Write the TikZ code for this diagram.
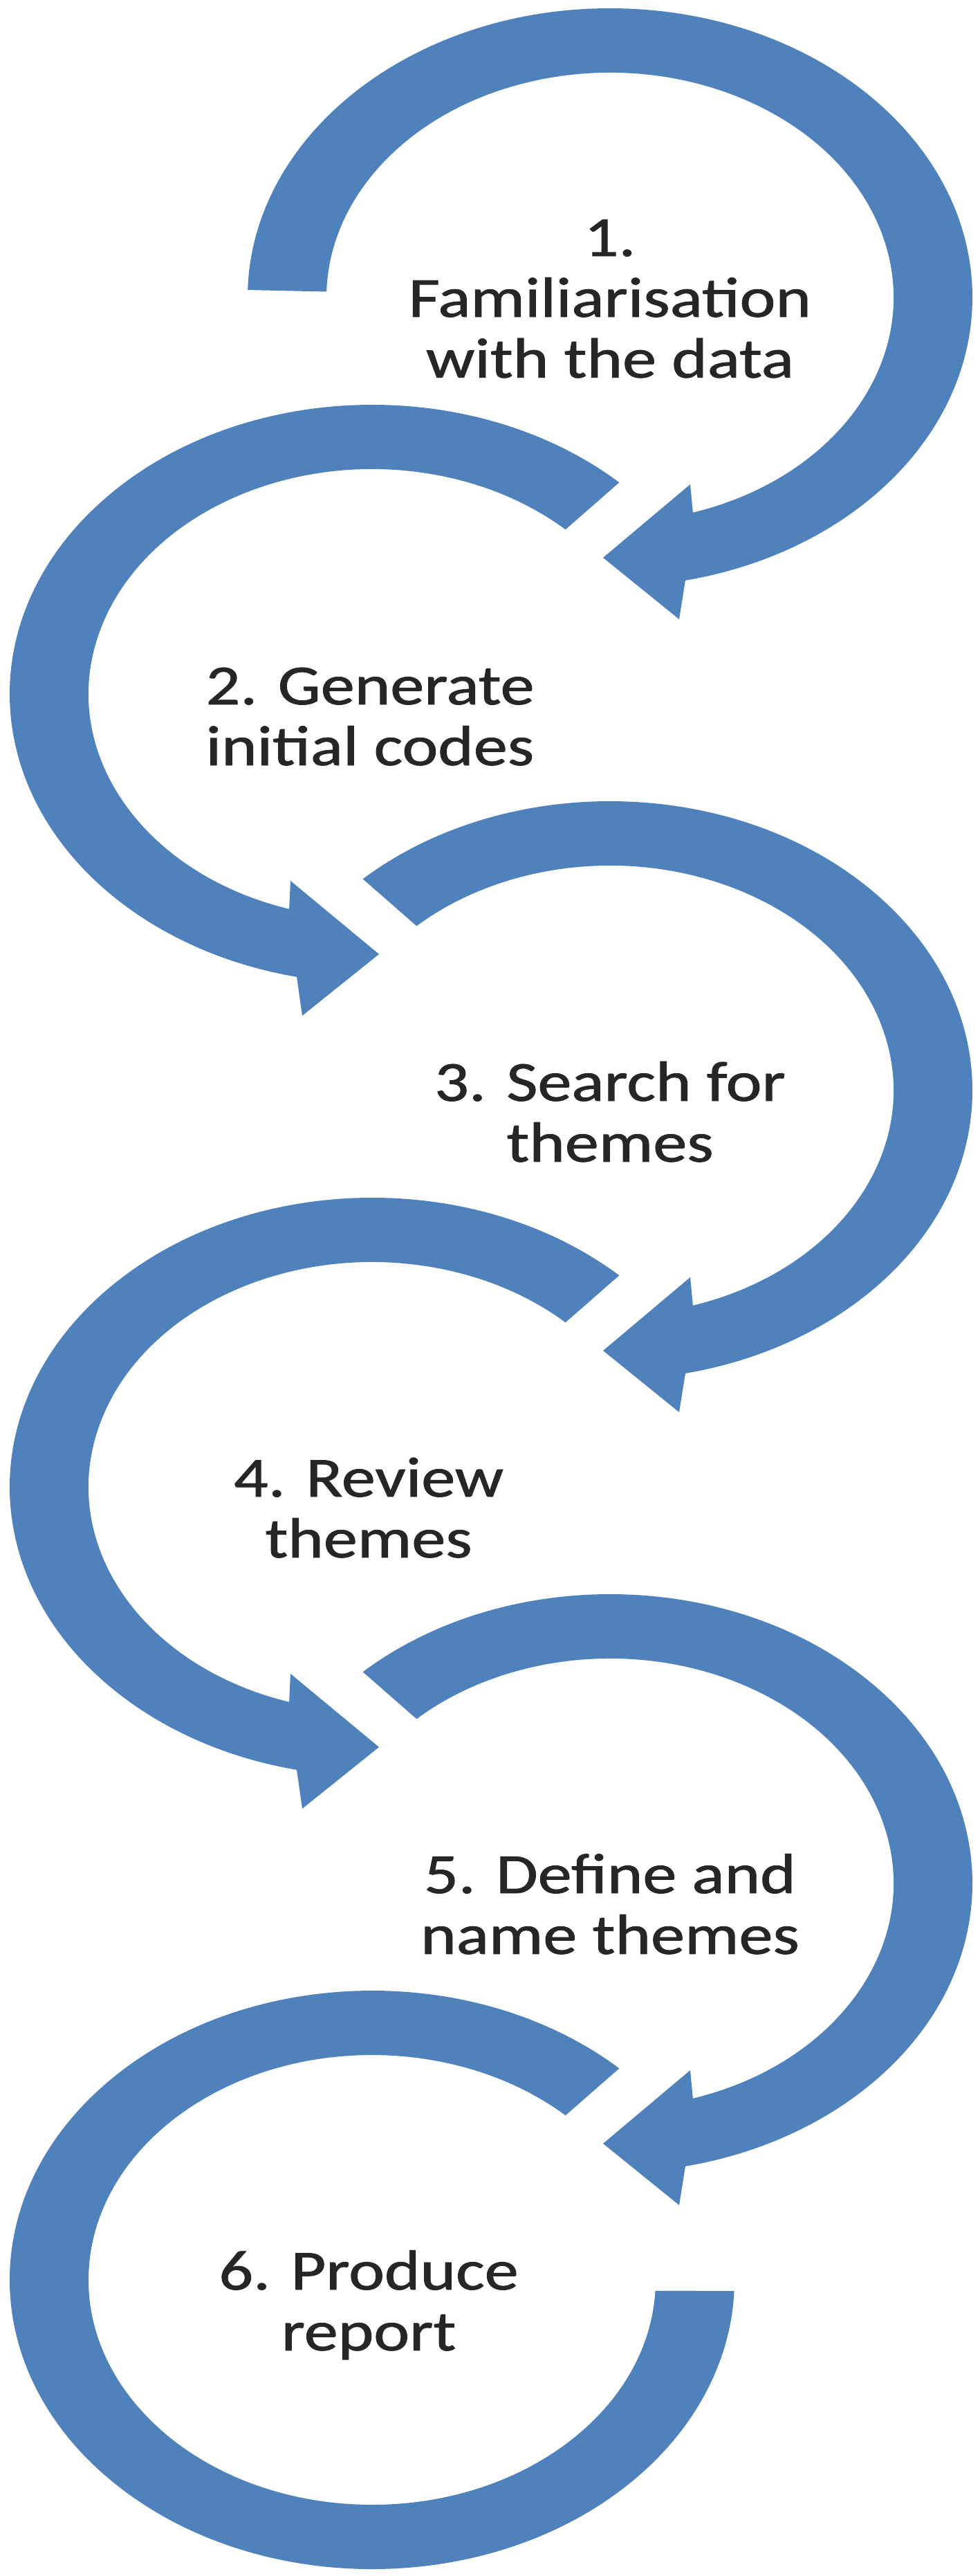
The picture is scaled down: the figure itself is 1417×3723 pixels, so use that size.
\documentclass[tikz,border=0pt]{standalone}
\usepackage{fontspec}
\setmainfont{Carlito}[FakeBold=1]
\usetikzlibrary{calc}
\definecolor{ringblue}{HTML}{4F81BD}
\newcommand{\steplines}[1]{\scalebox{1.2}[1]{\begin{tabular}[t]{@{}c@{}}#1\end{tabular}}}
\tikzset{steptext/.style={font=\fontsize{23.3}{25}\selectfont, text=black!85, anchor=base, inner sep=0pt}}

\begin{document}
\begin{tikzpicture}[x=0.1mm, y=0.1mm]
\useasboundingbox (0,0) rectangle (1417,-3723);
\coordinate (c1) at (882,-430);
\coordinate (c2) at (538,-1003);
\coordinate (c3) at (882,-1576);
\coordinate (c4) at (538,-2149);
\coordinate (c5) at (882,-2722);
\coordinate (c6) at (538,-3295);

% rings turning right
\foreach \c/\a in {c1/178.5, c3/133, c5/133}{
	\fill[ringblue] ($(\c)+(\a:524 and 418)$) arc[start angle=\a, end angle=-78, x radius=524, y radius=418]
		-- ($(\c)+(100,-465)$) -- ($(\c)+(-10,-376)$) -- ($(\c)+(116,-270)$)
		-- ($(\c)+(-73:410 and 325)$) arc[start angle=-73, end angle=\a, x radius=410, y radius=325] -- cycle;}
% rings turning left
\foreach \c in {c2, c4}{
	\fill[ringblue] ($(\c)+(47:524 and 418)$) arc[start angle=47, end angle=258, x radius=524, y radius=418]
		-- ($(\c)+(-101,-465)$) -- ($(\c)+(10,-376)$) -- ($(\c)+(-118,-270)$)
		-- ($(\c)+(253:410 and 325)$) arc[start angle=253, end angle=47, x radius=410, y radius=325] -- cycle;}
\fill[ringblue] ($(c6)+(47:524 and 418)$) arc[start angle=47, end angle=357.8, x radius=524, y radius=418]
	-- ($(c6)+(357.2:410 and 325)$) arc[start angle=357.2, end angle=47, x radius=410, y radius=325] -- cycle;

\node[steptext] (step1) at ($(c1)+(0,60)$) {\steplines{1.\\Familiarisation\\with the data}};
\node[steptext] (step2) at ($(c2)+(-3,-15)$) {\steplines{2. Generate\\initial codes}};
\node[steptext] (step3) at ($(c3)+(0,-15)$) {\steplines{3. Search for\\themes}};
\node[steptext] (step4) at ($(c4)+(-5,-14)$) {\steplines{4. Review\\themes}};
\node[steptext] (step5) at ($(c5)+(0,-14)$) {\steplines{5. Define and\\name themes}};
\node[steptext] (step6) at ($(c6)+(-5,-14)$) {\steplines{6. Produce\\report}};
\end{tikzpicture}
\end{document}
